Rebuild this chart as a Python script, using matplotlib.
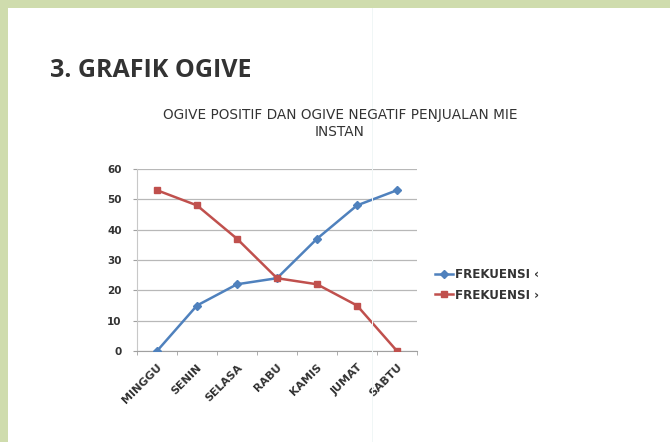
import matplotlib.pyplot as plt
from matplotlib.patches import Rectangle

hari = ['MINGGU', 'SENIN', 'SELASA', 'RABU', 'KAMIS', 'JUMAT', 'SABTU']
frek_kurang = [0, 15, 22, 24, 37, 48, 53]   # ogive positif
frek_lebih = [53, 48, 37, 24, 22, 15, 0]    # ogive negatif
label_kurang = 'FREKUENSI \u2039'
label_lebih = 'FREKUENSI \u203a'
y_ticks = [0, 10, 20, 30, 40, 50, 60]

BIRU = '#4f81bd'
MERAH = '#c0504d'
TEKS = '#333333'

plt.rcParams['font.family'] = ['DejaVu Sans']

fig = plt.figure(figsize=(6.7, 4.42), dpi=100)
fig.patch.set_facecolor('white')

# bingkai hijau di atas dan kiri slide
hijau = '#cfdcad'
fig.patches.append(Rectangle((0, 1 - 8 / 442), 1, 8 / 442, transform=fig.transFigure,
                             facecolor=hijau, edgecolor='none', zorder=0))
fig.patches.append(Rectangle((0, 0), 8 / 670, 1, transform=fig.transFigure,
                             facecolor=hijau, edgecolor='none', zorder=0))
fig.patches.append(Rectangle((372 / 670, 0), 1.2 / 670, 1 - 8 / 442, transform=fig.transFigure,
                             facecolor='#f0f6f6', edgecolor='none', zorder=0))

fig.text(50 / 670, 1 - 77 / 442, '3. GRAFIK OGIVE', fontsize=18, fontweight='bold',
         family=['Open Sans', 'DejaVu Sans'], color=TEKS, ha='left', va='baseline')
fig.text(340 / 670, 1 - 123.5 / 442, 'OGIVE POSITIF DAN OGIVE NEGATIF PENJUALAN MIE\nINSTAN',
         fontsize=9.8, color=TEKS, ha='center', va='center', linespacing=1.3)

ax = fig.add_axes([137 / 670, 1 - 351 / 442, 280 / 670, 182 / 442])
ax.set_facecolor('none')
x = list(range(len(hari)))

ax.plot(x, frek_kurang, color=BIRU, lw=1.8, marker='D', ms=3.8, mfc=BIRU, mec=BIRU,
        label=label_kurang, zorder=3)
ax.plot(x, frek_lebih, color=MERAH, lw=1.8, marker='s', ms=5, mfc=MERAH, mec=MERAH,
        label=label_lebih, zorder=3)

ax.set_xlim(-0.5, len(hari) - 0.5)
ax.set_ylim(0, 60)
ax.set_yticks(y_ticks)
ax.set_yticklabels([str(v) for v in y_ticks], fontsize=7.5, fontweight='bold', color=TEKS)
ax.yaxis.grid(True, color='#b8b8b8', lw=0.9)
ax.set_axisbelow(True)

ax.set_xticks(x)
ax.set_xticklabels(hari, rotation=45, ha='right', va='top', rotation_mode='anchor',
                   fontsize=8, fontweight='bold', color=TEKS)
ax.set_xticks([i - 0.5 for i in range(len(hari) + 1)], minor=True)
ax.tick_params(axis='x', which='major', length=0, pad=8)
ax.tick_params(axis='x', which='minor', length=3, color='#a0a0a0', direction='out')
ax.tick_params(axis='y', length=3, color='#a0a0a0', pad=8)

for s in ['top', 'right']:
    ax.spines[s].set_visible(False)
ax.spines['left'].set_color('#c8c8c8')
ax.spines['bottom'].set_color('#a0a0a0')

leg = ax.legend(loc='center left', bbox_to_anchor=(429 / 670, 1 - 285 / 442),
                bbox_transform=fig.transFigure, frameon=False, fontsize=8.6,
                handlelength=1.5, handletextpad=0.15, labelspacing=0.6, borderpad=0)
for t in leg.get_texts():
    t.set_color(TEKS)
    t.set_fontweight('bold')

fig.savefig('out.png', dpi=100, facecolor='white')
